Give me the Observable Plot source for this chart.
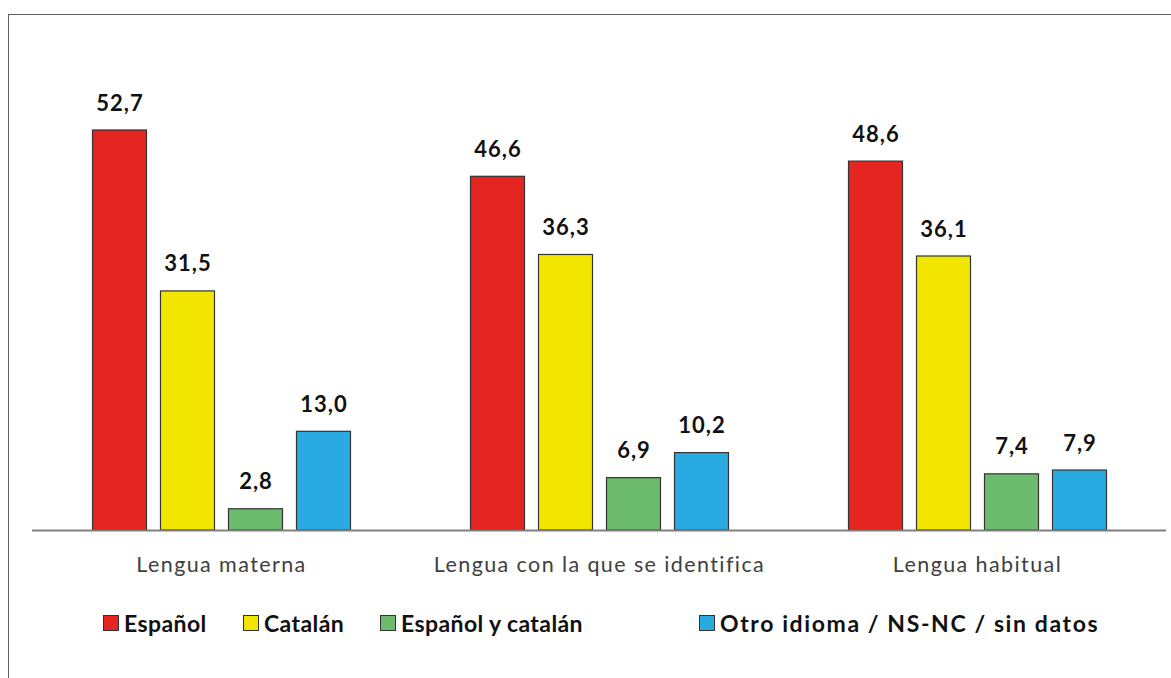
<!DOCTYPE html>
<html><head><meta charset="utf-8">
<script src="https://cdn.jsdelivr.net/npm/d3@7"></script>
<script src="https://cdn.jsdelivr.net/npm/@observablehq/plot@0.6"></script>
<style>
body{margin:0;background:#fff;font-family:Lato,"Noto Sans",sans-serif;}
#wrap{position:relative;width:1171px;height:678px;overflow:hidden;background:#fff;}
#frame{position:absolute;left:8px;top:14px;width:1300px;height:800px;border-left:1.5px solid #606060;border-top:1.5px solid #606060;box-sizing:border-box;}
#chart{position:absolute;left:0;top:0;}
.li{position:absolute;top:611px;display:flex;align-items:center;font-weight:bold;font-size:23px;letter-spacing:0.4px;color:#111;white-space:nowrap;height:24px;}
.sw{width:14px;height:14px;border:1.5px solid #333;margin-right:5px;}
</style>
</head><body>
<div id="wrap"><div id="frame"></div><div id="chart"></div><div id="legend"></div></div>
<script>
const categories = ["Lengua materna", "Lengua con la que se identifica", "Lengua habitual"];
const series = ["Español", "Catalán", "Español y catalán", "Otro idioma / NS-NC / sin datos"];
const espanol = [52.7, 46.6, 48.6];
const catalan = [31.5, 36.3, 36.1];
const espanolYCatalan = [2.8, 6.9, 7.4];
const otro = [13.0, 10.2, 7.9];

const colors = ["#e42522", "#f2e600", "#6dbb6c", "#29abe2"];
const legendX = [103, 243, 380, 699];
const legendSpacing = ["0.4px", "0.4px", "0.4px", "1.6px"];

const seriesValues = [espanol, catalan, espanolYCatalan, otro];
const data = [];
categories.forEach((c, i) => series.forEach((s, j) => data.push({cat: c, serie: s, value: seriesValues[j][i]})));

const fmt = v => v.toFixed(1).replace(".", ",");

const chart = Plot.plot({
  width: 1171,
  height: 600,
  marginLeft: 31.5,
  marginRight: 5.5,
  marginTop: 74.6,
  marginBottom: 70,
  style: {fontFamily: "Lato, 'Noto Sans', sans-serif", color: "#404040", background: "transparent"},
  fx: {domain: categories, padding: 0, label: null},
  x: {domain: series, paddingInner: 0.21, paddingOuter: 0.86, axis: null},
  y: {domain: [0, 60], axis: null},
  color: {domain: series, range: colors},
  marks: [
    Plot.barY(data, {fx: "cat", x: "serie", y: "value", fill: "serie", stroke: "#333", strokeWidth: 1.2}),
    Plot.ruleY([0], {stroke: "#808080", strokeWidth: 2}),
    Plot.text(data, {fx: "cat", x: "serie", y: "value", text: d => fmt(d.value), dy: -27, fontSize: 22, fontWeight: "bold", fill: "#111"}),
    Plot.axisFx({anchor: "bottom", tickSize: 0, tickPadding: 26, fontSize: 21.5, label: null, fill: "#404040"})
  ]
});
d3.select(chart).selectAll('g[aria-label="fx-axis tick label"] text').style("letter-spacing", "1.4px");
d3.select(chart).selectAll('g[aria-label="text"] text').style("letter-spacing", "1px");
document.getElementById("chart").appendChild(chart);

const legend = document.getElementById("legend");
series.forEach((s, i) => {
  const item = document.createElement("div");
  item.className = "li";
  item.style.left = legendX[i] + "px";
  item.style.letterSpacing = legendSpacing[i];
  const sw = document.createElement("div");
  sw.className = "sw";
  sw.style.background = colors[i];
  const t = document.createElement("span");
  t.textContent = s;
  item.appendChild(sw); item.appendChild(t);
  legend.appendChild(item);
});
</script>
</body></html>
